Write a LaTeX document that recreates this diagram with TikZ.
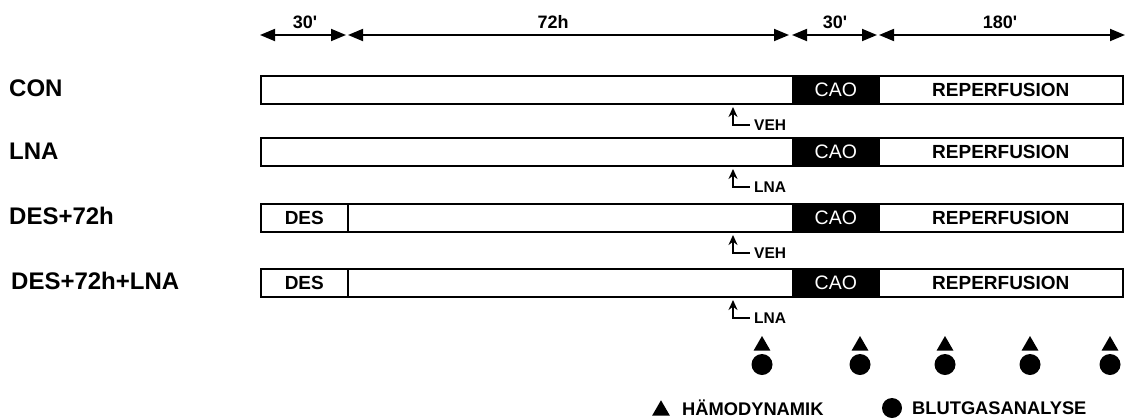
\documentclass[tikz,border=0pt]{standalone}
\usepackage{fontspec}
\setmainfont{Liberation Sans}
\usetikzlibrary{arrows.meta,shapes.geometric}
\begin{document}
\begin{tikzpicture}[x=1pt,y=-1pt,
  segbox/.style={draw=black,line width=1.6pt,fill=white,inner sep=0pt,minimum height=28pt,anchor=north west},
  caobox/.style={draw=black,line width=1.6pt,fill=black,inner sep=0pt,minimum height=28pt,anchor=north west,text=white,font=\fontsize{19.5}{20}\selectfont},
  seglabel/.style={font=\fontsize{19}{20}\selectfont\bfseries},
  grouplabel/.style={anchor=west,inner sep=0pt,font=\fontsize{24}{26}\selectfont\bfseries},
  timelabel/.style={inner sep=0pt,font=\fontsize{18}{19}\selectfont\bfseries},
  dimarrow/.style={line width=1.8pt,{Triangle[length=15pt,width=12pt]}-{Triangle[length=15pt,width=12pt]}},
  markarrow/.style={line width=1.6pt,{Stealth[length=10pt,width=9pt]}-},
  marklabel/.style={anchor=west,inner sep=0pt,font=\fontsize{15.5}{16}\selectfont\bfseries},
  tri/.style={regular polygon,regular polygon sides=3,fill=black,inner sep=0pt,minimum size=19.6pt},
  dot/.style={circle,fill=black,inner sep=0pt,minimum size=21pt},
  legendlabel/.style={anchor=west,inner sep=0pt,font=\fontsize{18.3}{19}\selectfont\bfseries}
]
\useasboundingbox (0,0) rectangle (1126,418);

% time axis
\coordinate (t0) at (260,35);
\coordinate (t1a) at (346,35);
\coordinate (t1b) at (348,35);
\coordinate (t2a) at (789,35);
\coordinate (t2b) at (792,35);
\coordinate (t3a) at (877,35);
\coordinate (t3b) at (879,35);
\coordinate (t4) at (1125,35);
\draw[dimarrow] (t0) -- (t1a);
\draw[dimarrow] (t1b) -- (t2a);
\draw[dimarrow] (t2b) -- (t3a);
\draw[dimarrow] (t3b) -- (t4);
\node[timelabel] (l30a) at (305,22) {30\textquotesingle};
\node[timelabel] (l72) at (553,22) {72h};
\node[timelabel] (l30b) at (835,22) {30\textquotesingle};
\node[timelabel] (l180) at (1000,22) {180\textquotesingle};

% row 1: CON
\node[grouplabel] (gcon) at (9,88) {CON};
\node[segbox,minimum width=532pt] (conpre) at (260,75) {};
\node[caobox,minimum width=86pt] (concao) at (792,75) {CAO};
\node[segbox,minimum width=244pt] (conrep) at (878,75) {};
\node[seglabel] (conreptxt) at (conrep.center) {REPERFUSION};

% row 2: LNA
\node[grouplabel] (glna) at (9,151) {LNA};
\node[segbox,minimum width=532pt] (lnapre) at (260,137) {};
\node[caobox,minimum width=86pt] (lnacao) at (792,137) {CAO};
\node[segbox,minimum width=244pt] (lnarep) at (878,137) {};
\node[seglabel] (lnareptxt) at (lnarep.center) {REPERFUSION};

% row 3: DES+72h
\node[grouplabel] (gdes) at (9,216) {DES+72h};
\node[segbox,minimum width=87pt] (desdes) at (260,203) {};
\node[seglabel] (desdestxt) at (desdes.center) {DES};
\node[segbox,minimum width=445pt] (despre) at (347,203) {};
\node[caobox,minimum width=86pt] (descao) at (792,203) {CAO};
\node[segbox,minimum width=244pt] (desrep) at (878,203) {};
\node[seglabel] (desreptxt) at (desrep.center) {REPERFUSION};

% row 4: DES+72h+LNA
\node[grouplabel] (gdl) at (11,281) {DES+72h+LNA};
\node[segbox,minimum width=87pt] (dldes) at (260,268) {};
\node[seglabel] (dldestxt) at (dldes.center) {DES};
\node[segbox,minimum width=445pt] (dlpre) at (347,268) {};
\node[caobox,minimum width=86pt] (dlcao) at (792,268) {CAO};
\node[segbox,minimum width=244pt] (dlrep) at (878,268) {};
\node[seglabel] (dlreptxt) at (dlrep.center) {REPERFUSION};

% treatment markers
\foreach \r/\y/\lab in {a/104/VEH, b/166/LNA, c/232/VEH, d/297/LNA}{
  \coordinate (tip\r) at (733,\y+3);
  \coordinate (corner\r) at (733,\y+21);
  \coordinate (end\r) at (750,\y+21);
  \draw[markarrow] (tip\r) -- (corner\r) -- (end\r);
  \node[marklabel] (mark\r) at (754,\y+21) {\lab};
}

% measurement points
\foreach \i/\x in {1/762,2/860,3/945,4/1030,5/1110}{
  \node[tri] (tri\i) at (\x,345.8) {};
  \node[dot] (dot\i) at (\x,364.5) {};
}

% legend
\node[tri,minimum size=20.5pt] (legtri) at (661,410.5) {};
\node[legendlabel] (leghaemo) at (682,408) {HÄMODYNAMIK};
\node[dot,minimum size=20pt] (legdot) at (892,408) {};
\node[legendlabel] (legblut) at (912,408) {BLUTGASANALYSE};
\end{tikzpicture}
\end{document}
